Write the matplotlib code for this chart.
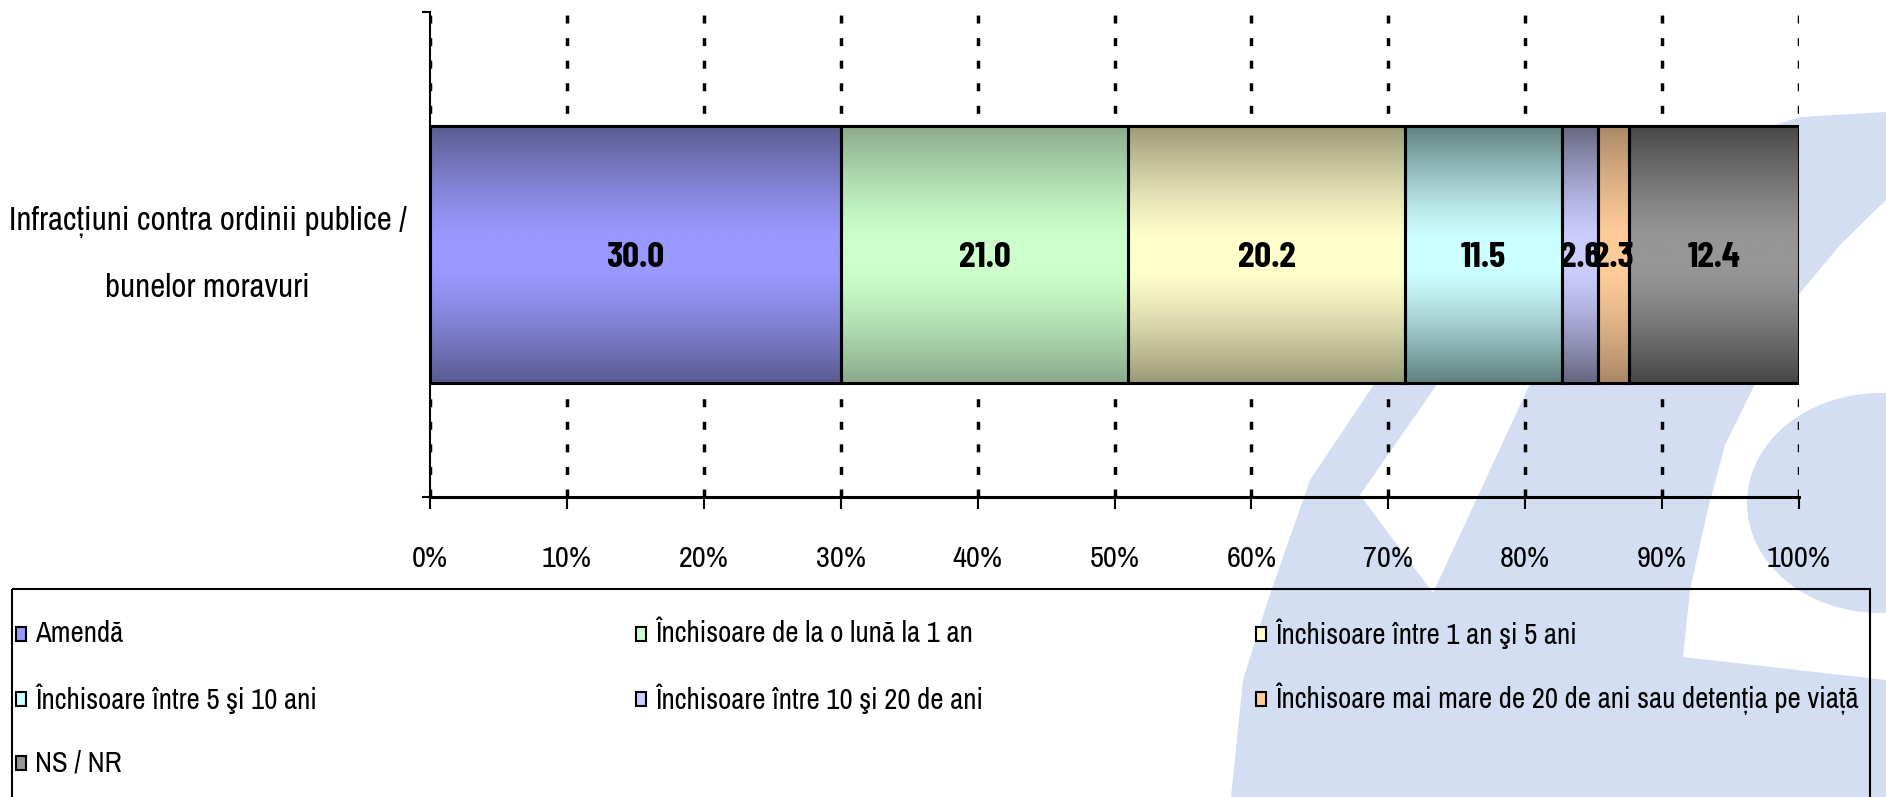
import numpy as np
import matplotlib
matplotlib.use("Agg")
import matplotlib.pyplot as plt
from matplotlib import font_manager
from matplotlib.font_manager import FontProperties
from matplotlib.textpath import TextPath
from matplotlib.colors import to_rgb
from matplotlib.patches import Polygon, Rectangle, Ellipse
from matplotlib.ticker import PercentFormatter

# date
category = "Infracțiuni contra ordinii publice /\nbunelor moravuri"
series = ["Amendă",
          "Închisoare de la o lună la 1 an",
          "Închisoare între 1 an şi 5 ani",
          "Închisoare între 5 şi 10 ani",
          "Închisoare între 10 şi 20 de ani",
          "Închisoare mai mare de 20 de ani sau detenția pe viață",
          "NS / NR"]
values = [30.0, 21.0, 20.2, 11.5, 2.6, 2.3, 12.4]
light = ["#9999FF", "#CCFFCC", "#FFFFCC", "#CCFFFF", "#CCCCFF", "#FFCC99", "#969696"]
dark = ["#5A5A8F", "#8AAA8A", "#999977", "#5F7F7F", "#666680", "#AA8866", "#464646"]

# fonturi inguste
names = {f.name for f in font_manager.fontManager.ttflist}
reg = "Archivo Narrow" if "Archivo Narrow" in names else "Liberation Sans"
bold = "Barlow Condensed" if "Barlow Condensed" in names else "Liberation Sans"
plt.rcParams["font.family"] = [reg, "DejaVu Sans"]


def fit(s, px, family, weight="normal"):
    # marimea fontului (pt) pentru ca textul sa aiba latimea px la 100 dpi
    w = TextPath((0, 0), s, size=100, prop=FontProperties(family=family, weight=weight)).get_extents().width
    return 72 * px / w


fs_cat = fit("Infracțiuni contra ordinii publice /", 394, reg)
fs_tick = fit("100%", 61, reg)
fs_leg = fit(series[5], 583, reg)
fs_bar = fit("30.0", 56, bold, "bold")

W, H = 1886, 797
fig = plt.figure(figsize=(W / 100, H / 100), dpi=100)

# fundal: sigla albastra deschisa
bg = fig.add_axes([0, 0, 1, 1], zorder=0)
bg.set_xlim(0, W)
bg.set_ylim(H, 0)
bg.axis("off")
wm = "#D4DEF3"
bg.add_patch(Polygon([(1231, 797), (1243, 680), (1268, 600), (1310, 480), (1377, 380),
                      (1450, 300), (1560, 215), (1680, 155), (1800, 117), (1886, 112),
                      (1886, 797)], closed=True, fc=wm, ec="none"))
bg.add_patch(Polygon([(1360, 495), (1440, 380), (1480, 330), (1560, 330), (1527, 390),
                      (1433, 593)], closed=True, fc="white", ec="none"))
bg.add_patch(Polygon([(1886, 200), (1840, 245), (1800, 293), (1757, 380), (1725, 445),
                      (1707, 513), (1690, 590), (1683, 657), (1886, 680)],
                     closed=True, fc="white", ec="none"))
bg.add_patch(Ellipse((1880, 503), 266, 220, fc=wm, ec="none"))

# grafic
ax = fig.add_axes([430 / W, 1 - 497 / H, (1799 - 430) / W, (497 - 12) / H], zorder=1)
ax.patch.set_alpha(0)

left = np.concatenate([[0], np.cumsum(values)[:-1]])
bars = ax.barh([0] * len(values), values, left=left, height=0.53,
               fc="none", ec="black", lw=2.2, zorder=3)

t = np.linspace(0, 1, 256)
d = np.abs(t - 0.5) * 2
f = np.clip((d - 0.12) / 0.88, 0, 1) ** 1.3
for b, lc, dc in zip(bars, light, dark):
    x0, y0, w, h = b.get_x(), b.get_y(), b.get_width(), b.get_height()
    cols = np.array(to_rgb(lc))[None, :] * (1 - f)[:, None] + np.array(to_rgb(dc))[None, :] * f[:, None]
    ax.imshow(cols[:, None, :], extent=[x0, x0 + w, y0, y0 + h], aspect="auto",
              interpolation="bilinear", zorder=2)

for l, v in zip(left, values):
    ax.text(l + v / 2, -0.008, f"{v:.1f}", ha="center", va="center",
            fontsize=fs_bar, fontweight="bold", family=[bold, "DejaVu Sans"], zorder=4)

ax.set_xlim(0, 100)
ax.set_ylim(-0.5, 0.5)
ax.set_xticks(np.arange(0, 101, 10))
ax.xaxis.set_major_formatter(PercentFormatter(decimals=0))
ax.grid(axis="x", color="black", lw=2.5, linestyle=(0, (2.3, 4.2)))
ax.set_axisbelow(True)

ax.set_yticks([0])
ax.set_yticklabels([category])
ax.set_yticks([-0.5, 0.5], minor=True)
ax.tick_params(axis="y", which="major", length=0, pad=17, labelsize=fs_cat)
ax.tick_params(axis="y", which="minor", length=6, width=1.5)
ax.tick_params(axis="x", length=8.5, width=1.5, pad=26, labelsize=fs_tick)
for lab in ax.get_yticklabels():
    lab.set_multialignment("center")
    lab.set_linespacing(2.45)
    lab.set_verticalalignment("center")

for s in ["top", "right"]:
    ax.spines[s].set_visible(False)
ax.spines["left"].set_linewidth(1.5)
ax.spines["bottom"].set_linewidth(2.2)

# legenda
for i, (name, lc) in enumerate(zip(series, light)):
    r, c = divmod(i, 3)
    x = 16 + c * 620
    y = 634 + r * 64.5
    bg.add_patch(Rectangle((x, y - 7), 10, 14, fc=lc, ec="black", lw=1.5))
    bg.text(x + 19, y, name, va="center", ha="left", fontsize=fs_leg)
bg.add_patch(Rectangle((12, 589), 1858, 230, fill=False, ec="black", lw=1.5))

fig.savefig("out.png", dpi=100)
